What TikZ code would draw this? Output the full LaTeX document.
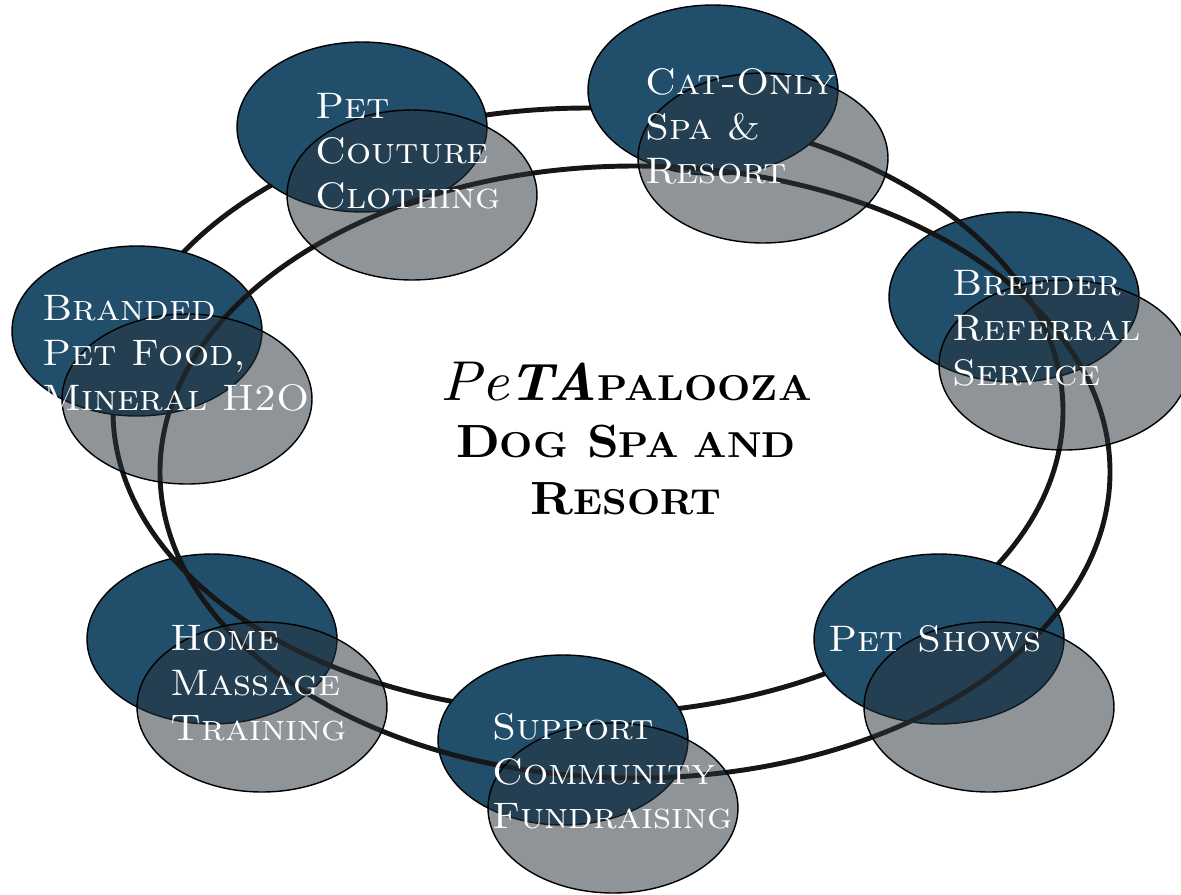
\documentclass[tikz,border=0pt]{standalone}
\usepackage{fontspec}
\usetikzlibrary{calc,shapes.geometric}
\newfontfamily\widefont[FakeStretch=1.07,
  BoldFont=lmroman10-bold.otf,
  ItalicFont=lmroman10-italic.otf,
  BoldItalicFont=lmroman10-bolditalic.otf,
  SmallCapsFont=lmromancaps10-regular.otf]{lmroman10-regular.otf}
\definecolor{ovalblue}{RGB}{32,78,107}
\definecolor{ovalslate}{RGB}{38,50,58}
\definecolor{ringblack}{RGB}{22,22,22}
\newcommand{\smc}[1]{{\fontsize{20.5}{20.5}\selectfont #1}}

\begin{document}
\begin{tikzpicture}[x=0.02cm, y=-0.02cm,
    blueoval/.style={ellipse, draw=black, line width=0.8pt, fill=ovalblue, minimum width=5cm, minimum height=3.4cm, inner sep=0pt},
    greyoval/.style={ellipse, draw=black, line width=0.8pt, fill=ovalslate, fill opacity=0.52, minimum width=5cm, minimum height=3.4cm, inner sep=0pt},
    ring/.style={draw=ringblack, line width=2.8pt},
    lbl/.style={anchor=north west, inner sep=0pt, align=left, text=white, font=\widefont\fontsize{21}{25.5}\selectfont\scshape}]

  \useasboundingbox (0,0) rectangle (1181,894);

  % Ovals under the first ring
  \node[blueoval] (breeder) at (1014,297) {};
  \node[blueoval] (massage) at (212,639) {};

  % First ring
  \draw[ring] (588,411) ellipse (475 and 303);

  % Ovals over the first ring
  \node[blueoval] (couture) at (362,127) {};
  \node[blueoval] (catspa) at (713,90) {};
  \node[blueoval] (branded) at (137,331) {};
  \node[blueoval] (support) at (563,740) {};
  \node[blueoval] (shows) at (939,639) {};

  % Second ring
  \draw[ring] (635,472) ellipse (475 and 306);

  % Grey overlays
  \node[greyoval] (couture-g) at ($(couture)+(50,68)$) {};
  \node[greyoval] (catspa-g) at ($(catspa)+(50,68)$) {};
  \node[greyoval] (breeder-g) at ($(breeder)+(50,68)$) {};
  \node[greyoval] (branded-g) at ($(branded)+(50,68)$) {};
  \node[greyoval] (massage-g) at ($(massage)+(50,68)$) {};
  \node[greyoval] (support-g) at ($(support)+(50,68)$) {};
  \node[greyoval] (shows-g) at ($(shows)+(50,68)$) {};

  % Labels
  \node[lbl] (couture-t) at (315,93) {Pet\\Couture\\Clothing};
  \node[lbl] (catspa-t) at (645,68) {Cat-Only\\Spa \&\\Resort};
  \node[lbl] (breeder-t) at (952,270) {Breeder\\Referral\\Service};
  \node[lbl] (branded-t) at (42,295) {Branded\\Pet Food,\\Mineral H2O};
  \node[lbl] (massage-t) at (170,625) {Home\\Massage\\Training};
  \node[lbl] (support-t) at (492,713) {Support\\Community\\Fundraising};
  \node[lbl] (shows-t) at (828,625) {Pet Shows};

  % Centre title
  \node[anchor=north, inner sep=0pt, align=center, font=\widefont\fontsize{26.5}{32.3}\selectfont\bfseries] (title) at (626,362)
    {{\mdseries\itshape\fontsize{32}{32}\selectfont Pe}{\itshape\fontsize{30}{30}\selectfont TA}\smc{PALOOZA}\\
     D\smc{OG} S\smc{PA AND}\\
     R\smc{ESORT}};
\end{tikzpicture}
\end{document}
